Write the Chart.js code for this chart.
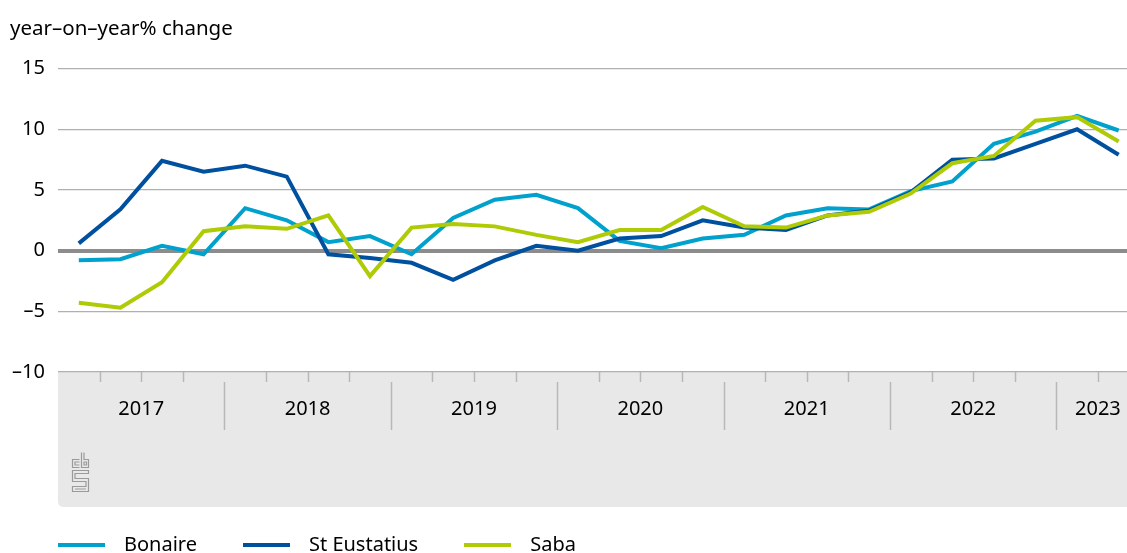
<!DOCTYPE html>
<html>
<head>
<meta charset="utf-8">
<script src="https://cdn.jsdelivr.net/npm/chart.js@4"></script>
<style>
  html, body { margin: 0; padding: 0; background: #fff; }
  #wrap { position: relative; width: 1127px; height: 553px; overflow: hidden; }
  #legend { position: absolute; left: 58px; top: 530px; display: flex; align-items: center;
            font-family: 'Noto Sans', sans-serif; font-size: 20px; color: #000; }
  #legend .item { display: flex; align-items: center; margin-right: 46px; }
  #legend .swatch { width: 47px; height: 4px; margin-right: 19px; margin-top: 2px; }
</style>
</head>
<body>
<div id="wrap">
  <canvas id="myChart" width="1127" height="553"></canvas>
  <div id="legend"></div>
</div>
<script>
// Data: quarterly, 2017 Q1 - 2023 Q2
const years = ['2017', '2018', '2019', '2020', '2021', '2022', '2023'];
const quartersPerYear = [4, 4, 4, 4, 4, 4, 2];
const yTicks = [-10, -5, 0, 5, 10, 15];
const bonaire     = [-0.8, -0.7, 0.4, -0.3, 3.5, 2.5, 0.7, 1.2, -0.3, 2.7, 4.2, 4.6, 3.5, 0.8, 0.2, 1.0, 1.3, 2.9, 3.5, 3.4, 4.9, 5.7, 8.8, 9.8, 11.1, 9.9];
const stEustatius = [0.6, 3.4, 7.4, 6.5, 7.0, 6.1, -0.3, -0.6, -1.0, -2.4, -0.8, 0.4, 0.0, 1.0, 1.2, 2.5, 1.9, 1.7, 2.9, 3.3, 4.8, 7.5, 7.6, 8.8, 10.0, 7.9];
const saba        = [-4.3, -4.7, -2.6, 1.6, 2.0, 1.8, 2.9, -2.1, 1.9, 2.2, 2.0, 1.3, 0.7, 1.7, 1.7, 3.6, 2.0, 1.9, 2.9, 3.2, 4.7, 7.2, 7.8, 10.7, 11.0, 9.0];

const bonaireColor = '#00a1cd';
const eustatiusColor = '#0050a0';
const sabaColor = '#afcb05';
const fontFamily = "'Noto Sans', sans-serif";

// year boundaries and label positions (in quarter index units)
const yearStart = [];
let acc = 0;
quartersPerYear.forEach(n => { yearStart.push(acc); acc += n; });
const yearCenters = yearStart.map((s, i) => s - 0.5 + quartersPerYear[i] / 2);

const toPoints = arr => arr.map((v, i) => ({ x: i, y: v }));

// grey band under the x axis, quarter ticks, year separators and logo
const axisBand = {
  id: 'axis_band',
  beforeDraw: (chart) => {
    const ctx = chart.ctx;
    const a = chart.chartArea;
    const xs = chart.scales.x;
    const top = a.bottom, bottom = a.bottom + 135;
    ctx.save();
    ctx.fillStyle = '#e8e8e8';
    ctx.beginPath();
    ctx.moveTo(a.left, top);
    ctx.lineTo(chart.width, top);
    ctx.lineTo(chart.width, bottom);
    ctx.lineTo(a.left + 6, bottom);
    ctx.quadraticCurveTo(a.left, bottom, a.left, bottom - 6);
    ctx.closePath();
    ctx.fill();

    ctx.strokeStyle = '#b8b8b8';
    ctx.lineWidth = 1.5;
    for (let q = 1; q <= acc; q++) {
      const px = Math.round(xs.getPixelForValue(q - 0.5)) + 0.5;
      if (px > chart.width) continue;
      ctx.beginPath();
      if (yearStart.includes(q)) {
        ctx.moveTo(px, top + 10);
        ctx.lineTo(px, top + 58);
      } else {
        ctx.moveTo(px, top);
        ctx.lineTo(px, top + 10);
      }
      ctx.stroke();
    }

    // cbs logo (simplified outline)
    const lx = a.left + 14.5, ly = bottom - 54.5;
    ctx.strokeStyle = '#9a9a9a';
    ctx.lineWidth = 1.2;
    ctx.beginPath();
    // c
    ctx.moveTo(lx + 7, ly + 7); ctx.lineTo(lx, ly + 7); ctx.lineTo(lx, ly + 15); ctx.lineTo(lx + 7, ly + 15);
    ctx.moveTo(lx + 7, ly + 9.5); ctx.lineTo(lx + 2.5, ly + 9.5); ctx.lineTo(lx + 2.5, ly + 12.5); ctx.lineTo(lx + 7, ly + 12.5);
    // b
    ctx.moveTo(lx + 9, ly); ctx.lineTo(lx + 9, ly + 15); ctx.lineTo(lx + 16, ly + 15); ctx.lineTo(lx + 16, ly + 7); ctx.lineTo(lx + 11.5, ly + 7); ctx.lineTo(lx + 11.5, ly);
    ctx.rect(lx + 11.5, ly + 9.5, 2.5, 3);
    // s
    ctx.moveTo(lx + 16, ly + 18); ctx.lineTo(lx, ly + 18); ctx.lineTo(lx, ly + 29); ctx.lineTo(lx + 13.5, ly + 29);
    ctx.lineTo(lx + 13.5, ly + 34); ctx.lineTo(lx, ly + 34); ctx.lineTo(lx, ly + 39); ctx.lineTo(lx + 16, ly + 39);
    ctx.lineTo(lx + 16, ly + 26); ctx.lineTo(lx + 2.5, ly + 26); ctx.lineTo(lx + 2.5, ly + 21); ctx.lineTo(lx + 16, ly + 21);
    ctx.closePath();
    ctx.moveTo(lx + 2.5, ly + 36.5); ctx.lineTo(lx + 13.5, ly + 36.5);
    ctx.stroke();
    ctx.restore();
  }
};

const ctx = document.getElementById('myChart').getContext('2d');
const chart = new Chart(ctx, {
  type: 'line',
  data: {
    datasets: [
      { label: 'Bonaire', data: toPoints(bonaire), borderColor: bonaireColor, backgroundColor: bonaireColor, order: 2 },
      { label: 'St Eustatius', data: toPoints(stEustatius), borderColor: eustatiusColor, backgroundColor: eustatiusColor, order: 1 },
      { label: 'Saba', data: toPoints(saba), borderColor: sabaColor, backgroundColor: sabaColor, order: 0 }
    ]
  },
  plugins: [axisBand],
  options: {
    responsive: false,
    animation: false,
    layout: { padding: { left: 10, right: 0, top: 0, bottom: 0 } },
    elements: {
      line: { borderWidth: 4, tension: 0, fill: false },
      point: { radius: 0, hoverRadius: 0 }
    },
    plugins: {
      legend: { display: false },
      tooltip: { enabled: false },
      title: {
        display: true,
        text: 'year–on–year% change',
        align: 'start',
        color: '#000',
        font: { family: fontFamily, size: 20.5, weight: 'normal' },
        padding: { top: 17, bottom: 27 }
      }
    },
    scales: {
      x: {
        type: 'linear',
        min: -0.5,
        max: 25.2,
        grid: { display: false, drawTicks: false },
        border: { display: false },
        afterBuildTicks: (scale) => { scale.ticks = yearCenters.map(v => ({ value: v })); },
        afterFit: (scale) => {
          scale.height = 181;
          scale.paddingLeft = 0;
          scale.paddingRight = 0;
        },
        ticks: {
          padding: 25,
          color: '#000',
          maxRotation: 0,
          autoSkip: false,
          font: { family: fontFamily, size: 20 },
          callback: (v) => years[yearCenters.indexOf(v)]
        }
      },
      y: {
        min: -10,
        max: 15,
        afterBuildTicks: (scale) => { scale.ticks = yTicks.map(v => ({ value: v })); },
        afterFit: (scale) => { scale.width = 48; },
        border: { display: false },
        grid: {
          drawTicks: false,
          color: (c) => c.tick.value === 0 ? '#8c8c8c' : '#b0b0b0',
          lineWidth: (c) => c.tick.value === 0 ? 4 : 1.3
        },
        ticks: {
          padding: 13,
          color: '#000',
          font: { family: fontFamily, size: 20 },
          callback: (v) => String(v).replace('-', '–')
        }
      }
    }
  }
});

// HTML legend built from the datasets
const legendEl = document.getElementById('legend');
chart.data.datasets.forEach(ds => {
  const item = document.createElement('div');
  item.className = 'item';
  const sw = document.createElement('span');
  sw.className = 'swatch';
  sw.style.background = ds.borderColor;
  const txt = document.createElement('span');
  txt.textContent = ds.label;
  item.appendChild(sw);
  item.appendChild(txt);
  legendEl.appendChild(item);
});
</script>
</body>
</html>
